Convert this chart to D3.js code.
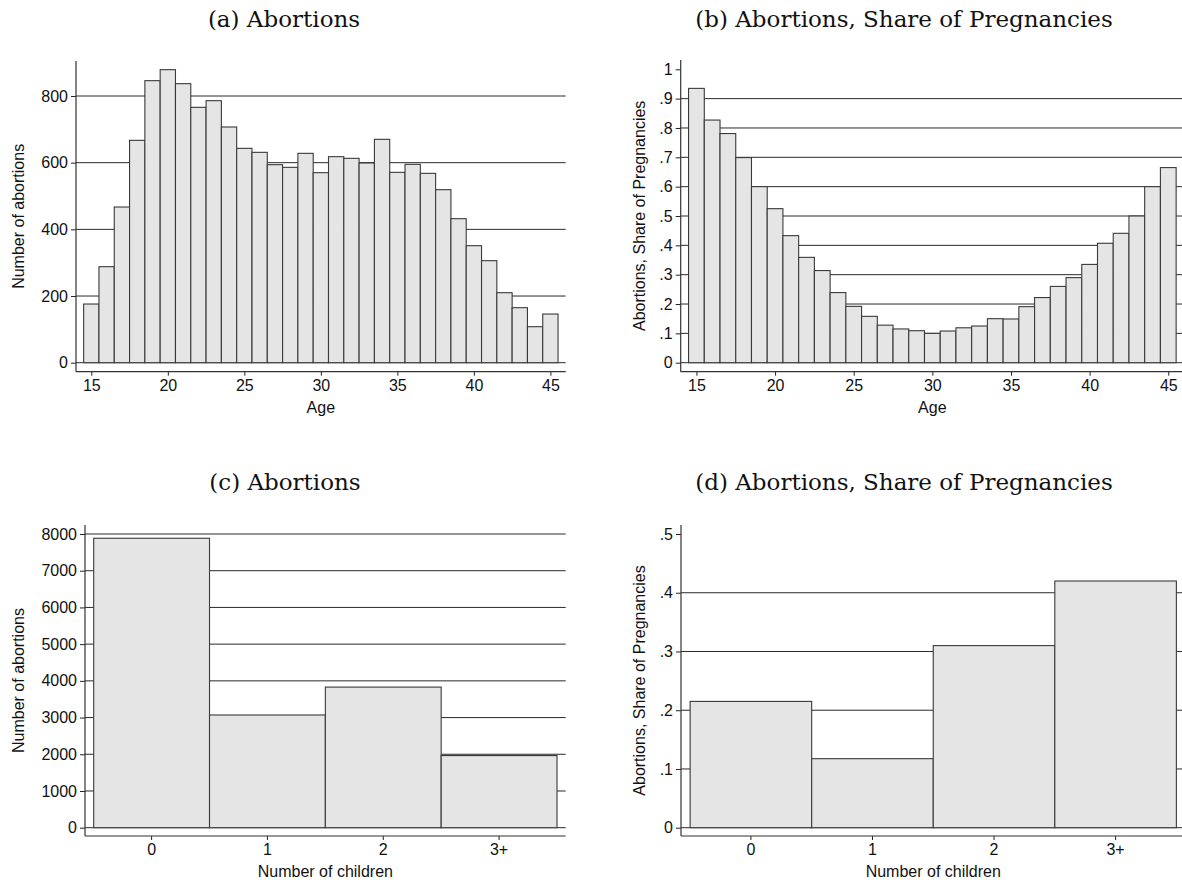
<!DOCTYPE html>
<html>
<head>
<meta charset="utf-8">
<script src="https://cdn.jsdelivr.net/npm/d3@7"></script>
<style>
  body { margin: 0; background: #fff; }
  svg { display: block; }
</style>
</head>
<body>
<div id="chart"></div>
<script>
// ages 15..45
const ages = [15, 16, 17, 18, 19, 20, 21, 22, 23, 24, 25, 26, 27, 28, 29, 30,
              31, 32, 33, 34, 35, 36, 37, 38, 39, 40, 41, 42, 43, 44, 45];
const abortionsByAge = [176, 288, 467, 667, 846, 879, 837, 766, 786, 707, 643, 631, 594, 586, 628, 570,
                        618, 613, 599, 670, 571, 595, 568, 519, 432, 351, 306, 210, 165, 108, 146];
const shareByAge = [0.935, 0.827, 0.781, 0.699, 0.600, 0.525, 0.433, 0.359, 0.314, 0.239, 0.192, 0.158, 0.128, 0.115, 0.109, 0.100,
                    0.108, 0.119, 0.125, 0.150, 0.149, 0.191, 0.222, 0.260, 0.290, 0.335, 0.407, 0.441, 0.500, 0.600, 0.665];

const children = ['0', '1', '2', '3+'];
const abortionsByChildren = [7884, 3070, 3830, 1965];
const shareByChildren = [0.215, 0.1175, 0.310, 0.420];

const ageTicks = [15, 20, 25, 30, 35, 40, 45];
const countTicksA = [0, 200, 400, 600, 800];
const shareTicksB = [0, 0.1, 0.2, 0.3, 0.4, 0.5, 0.6, 0.7, 0.8, 0.9, 1];
const countTicksC = [0, 1000, 2000, 3000, 4000, 5000, 6000, 7000, 8000];
const shareTicksD = [0, 0.1, 0.2, 0.3, 0.4, 0.5];

const sans = 'Liberation Sans, Arial, Helvetica, sans-serif';
const serif = 'DejaVu Serif, serif';

const svg = d3.select('#chart')
    .append('svg')
    .attr('width', 1182)
    .attr('height', 883);

// strip leading zero like Stata does: 0.3 -> .3
const shareFmt = d => d === 0 ? '0' : String(+d.toFixed(1)).replace(/^0\./, '.');

function drawPanel(p) {
    const g = svg.append('g');

    const y = d3.scaleLinear()
        .domain([0, p.yRef])
        .range([p.zeroY, p.yRefY]);

    let x, barX, barW;
    if (p.kind === 'age') {
        x = d3.scaleLinear().domain([14, 46]).range([p.left, p.right]);
        barX = (d, i) => x(p.cats[i] - 0.5);
        barW = () => x(1) - x(0);
    } else {
        x = d3.scaleBand().domain(p.cats).range([p.left, p.right])
            .paddingInner(0).paddingOuter(0.075);
        barX = (d, i) => x(p.cats[i]);
        barW = () => x.bandwidth();
    }

    // horizontal grid lines
    g.selectAll('line.grid')
        .data(p.grid)
        .join('line')
        .attr('class', 'grid')
        .attr('x1', p.left)
        .attr('x2', p.right)
        .attr('y1', d => y(d))
        .attr('y2', d => y(d))
        .attr('stroke', '#2a2a2a')
        .attr('stroke-width', 1);

    // bars
    g.selectAll('rect.bar')
        .data(p.values)
        .join('rect')
        .attr('class', 'bar')
        .attr('x', barX)
        .attr('width', barW)
        .attr('y', d => y(d))
        .attr('height', d => y(0) - y(d))
        .attr('fill', '#e5e5e5')
        .attr('stroke', '#3a3a3a')
        .attr('stroke-width', 1.1);

    // y axis
    const yAxis = g.append('g')
        .attr('transform', `translate(${p.left},0)`)
        .call(d3.axisLeft(y).tickValues(p.yTicks).tickFormat(p.yFmt)
            .tickSize(5).tickPadding(3).tickSizeOuter(0));
    yAxis.select('.domain').remove();
    yAxis.selectAll('.tick line').attr('stroke', '#222');
    yAxis.selectAll('text')
        .attr('font-family', sans)
        .attr('font-size', '16px')
        .attr('fill', '#111');

    g.append('line')
        .attr('x1', p.left).attr('x2', p.left)
        .attr('y1', p.top).attr('y2', p.bottom)
        .attr('stroke', '#333').attr('stroke-width', 1.2);

    // x axis
    const xAxisGen = p.kind === 'age'
        ? d3.axisBottom(x).tickValues(ageTicks).tickFormat(d3.format('d'))
        : d3.axisBottom(x);
    const xAxis = g.append('g')
        .attr('transform', `translate(0,${p.bottom})`)
        .call(xAxisGen.tickSize(4).tickPadding(3.5).tickSizeOuter(0));
    xAxis.select('.domain').remove();
    xAxis.selectAll('.tick line').attr('stroke', '#222');
    xAxis.selectAll('text')
        .attr('font-family', sans)
        .attr('font-size', '16px')
        .attr('fill', '#111');

    g.append('line')
        .attr('x1', p.left).attr('x2', p.right)
        .attr('y1', p.bottom).attr('y2', p.bottom)
        .attr('stroke', '#333').attr('stroke-width', 1.2);

    // axis titles
    g.append('text')
        .attr('x', (p.left + p.right) / 2)
        .attr('y', p.bottom + 41)
        .attr('text-anchor', 'middle')
        .attr('font-family', sans)
        .attr('font-size', '16px')
        .attr('fill', '#111')
        .text(p.xTitle);

    g.append('text')
        .attr('transform', `translate(${p.yTitleX},${(p.top + p.bottom) / 2}) rotate(-90)`)
        .attr('text-anchor', 'middle')
        .attr('font-family', sans)
        .attr('font-size', '16px')
        .attr('fill', '#111')
        .text(p.yTitle);

    // panel title
    svg.append('text')
        .attr('x', p.titleX)
        .attr('y', p.titleY)
        .attr('text-anchor', 'middle')
        .attr('font-family', serif)
        .attr('font-size', '23px')
        .attr('fill', '#111')
        .text(p.title);
}

drawPanel({
    title: '(a) Abortions', titleX: 284, titleY: 27,
    kind: 'age', cats: ages, values: abortionsByAge,
    left: 76, right: 565.7, top: 61, bottom: 371.7,
    zeroY: 362.7, yRef: 800, yRefY: 96,
    yTicks: countTicksA, grid: countTicksA, yFmt: d3.format('d'),
    xTitle: 'Age',
    yTitle: 'Number of abortions', yTitleX: 24
});

drawPanel({
    title: '(b) Abortions, Share of Pregnancies', titleX: 904, titleY: 27,
    kind: 'age', cats: ages, values: shareByAge,
    left: 680.7, right: 1184, top: 60, bottom: 371.7,
    zeroY: 362.7, yRef: 1, yRefY: 69.3,
    yTicks: shareTicksB, grid: shareTicksB.slice(0, -1), yFmt: shareFmt,
    xTitle: 'Age',
    yTitle: 'Abortions, Share of Pregnancies', yTitleX: 645
});

drawPanel({
    title: '(c) Abortions', titleX: 285, titleY: 490,
    kind: 'cat', cats: children, values: abortionsByChildren,
    left: 85, right: 565.7, top: 525, bottom: 836,
    zeroY: 827.7, yRef: 8000, yRefY: 534,
    yTicks: countTicksC, grid: countTicksC, yFmt: d3.format('d'),
    xTitle: 'Number of children',
    yTitle: 'Number of abortions', yTitleX: 24
});

drawPanel({
    title: '(d) Abortions, Share of Pregnancies', titleX: 904, titleY: 490,
    kind: 'cat', cats: children, values: shareByChildren,
    left: 681, right: 1185.5, top: 525, bottom: 836,
    zeroY: 827.7, yRef: 0.5, yRefY: 534,
    yTicks: shareTicksD, grid: shareTicksD.slice(0, -1), yFmt: shareFmt,
    xTitle: 'Number of children',
    yTitle: 'Abortions, Share of Pregnancies', yTitleX: 645
});
</script>
</body>
</html>
